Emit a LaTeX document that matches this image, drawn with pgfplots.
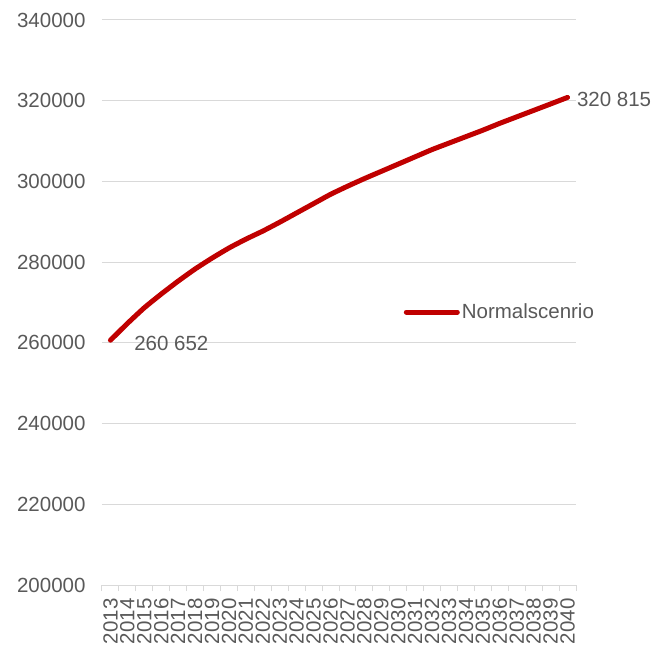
\documentclass[border=0pt]{standalone}
\usepackage{pgfplots}
\pgfplotsset{compat=1.18}
\usepackage{fontspec}
\setmainfont{Liberation Sans}
\definecolor{linered}{HTML}{C00000}
\definecolor{txtgray}{HTML}{595959}
\definecolor{gridgray}{HTML}{D9D9D9}
\begin{document}
\begin{tikzpicture}
\begin{axis}[
  scale only axis,
  width=474pt, height=565pt,
  xmin=-0.5, xmax=27.5,
  ymin=200000, ymax=340000,
  ytick={200000,220000,240000,260000,280000,300000,320000,340000},
  yticklabels={200000,220000,240000,260000,280000,300000,320000,340000},
  scaled y ticks=false,
  font=\fontsize{20.5}{24}\selectfont,
  ticklabel style={text=txtgray},
  ymajorgrids, xmajorgrids=false,
  grid style={draw=gridgray, line width=1pt},
  axis y line*=left,
  y axis line style={draw=none},
  axis x line*=bottom,
  x axis line style={draw=gridgray, line width=1pt, -},
  ytick style={draw=none},
  yticklabel style={xshift=-13pt},
  xtick={-0.5,0.5,...,27.5},
  xticklabels={},
  xtick align=outside,
  major tick length=6pt,
  xtick style={draw=gridgray, line width=1pt},
  extra x ticks={0,1,...,27},
  extra x tick labels={2013,2014,2015,2016,2017,2018,2019,2020,2021,2022,2023,2024,2025,2026,2027,2028,2029,2030,2031,2032,2033,2034,2035,2036,2037,2038,2039,2040},
  extra x tick style={major tick length=0pt, xmajorgrids=false},
  xticklabel style={rotate=90, anchor=east, xshift=-10pt},
  legend style={draw=none, fill=none, at={(0.63,0.483)}, anchor=west, text=txtgray,
    font=\fontsize{20.5}{24}\selectfont},
  legend cell align=left,
  legend image code/.code={\draw[linered, line width=5pt, line cap=round] (0pt,0pt)--(51pt,0pt);},
  clip=false,
]
\addplot[linered, line width=5pt, line cap=round, line join=round, smooth, tension=0.3] coordinates {
(0,260652) (1,264800) (2,268700) (3,272100) (4,275300) (5,278300) (6,281000)
(7,283500) (8,285700) (9,287700) (10,289900) (11,292200) (12,294500) (13,296800)
(14,298800) (15,300700) (16,302500) (17,304300) (18,306100) (19,307900) (20,309500)
(21,311100) (22,312700) (23,314400) (24,316000) (25,317600) (26,319200) (27,320815)
};
\addlegendentry{Normalscenrio}
\node[anchor=west, text=txtgray, font=\fontsize{20.5}{24}\selectfont] at (axis cs:1.2,259900) {260 652};
\node[anchor=west, text=txtgray, font=\fontsize{20.5}{24}\selectfont] at (axis cs:27.35,320400) {320 815};
\end{axis}
\path (current axis.south west) ++(-102pt,-60pt) coordinate (bl);
\path (current axis.north east) ++(90pt,20pt) coordinate (tr);
\path[use as bounding box] (bl) rectangle (tr);
\end{tikzpicture}
\end{document}
